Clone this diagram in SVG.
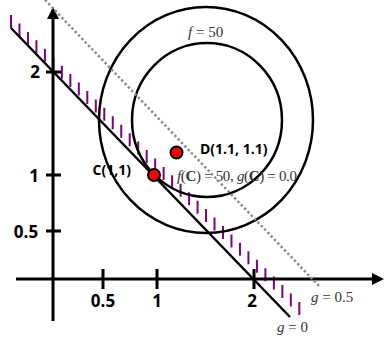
<svg xmlns="http://www.w3.org/2000/svg" width="384" height="337" viewBox="0 0 384 337">
<style>
.ax{stroke:#000;stroke-width:3;fill:none}
.ln{stroke:#000;stroke-width:2.5;fill:none}
.hatch{stroke:#800080;stroke-width:2;fill:none}
.dot{stroke:#8a8a8a;stroke-width:2.5;stroke-dasharray:2.4 2.4;fill:none}
.tick{font-family:"Open Sans","DejaVu Sans",sans-serif;font-weight:bold;font-size:17px;fill:#000}
.pl{font-family:"Open Sans","DejaVu Sans",sans-serif;font-weight:bold;font-size:14px;fill:#000}
.m{font-family:"Liberation Serif","Times New Roman",serif;font-size:15px;fill:#333}
.pt{fill:#ff0000;stroke:#000;stroke-width:2}
</style>
<rect width="384" height="337" fill="#fff"/>
<g id="connectors">
<path class="hatch" d="M11 28v-13M19.48 36.44v-13M27.96 44.88v-13M36.44 53.31v-13M44.92 61.75v-13M53.4 70.19v-13M61.88 78.63v-13M70.36 87.06v-13M78.84 95.5v-13M87.32 103.94v-13M95.8 112.38v-13M104.28 120.81v-13M112.76 129.25v-13M121.24 137.69v-13M129.72 146.13v-13M138.2 154.56v-13M146.68 163v-13M155.16 171.44v-13M163.64 179.88v-13M172.12 188.31v-13M180.6 196.75v-13M189.08 205.19v-13M197.56 213.63v-13M206.04 222.06v-13M214.52 230.5v-13M223 238.94v-13M231.48 247.38v-13M239.96 255.82v-13M248.44 264.25v-13M256.92 272.69v-13M265.4 281.13v-13M273.88 289.57v-13M282.36 298v-13M290.84 306.44v-13M299.32 314.88v-13"/>
<line id="g0" class="ln" x1="11" y1="28" x2="290" y2="317"/>
<ellipse id="f-outer" class="ln" cx="206" cy="120" rx="107" ry="113"/>
<ellipse id="f-inner" class="ln" cx="207" cy="120" rx="75" ry="77"/>
</g>
<g id="axes">
<line class="ax" x1="53" y1="321" x2="53" y2="16"/>
<polygon points="53,7 47,19 59,19" fill="#000"/>
<line class="ax" x1="16" y1="279" x2="374" y2="279"/>
<polygon points="384,279 372,273 372,285" fill="#000"/>
<path class="ax" d="M46 72h15M46 175h15M46 231h15M103 269v20M157 269v20M254 269v20"/>
<text class="tick" x="35" y="78" text-anchor="middle">2</text>
<text class="tick" x="34" y="181.5" text-anchor="middle">1</text>
<text class="tick" x="26" y="238" text-anchor="middle">0.5</text>
<text class="tick" x="103" y="307" text-anchor="middle">0.5</text>
<text class="tick" x="157" y="307" text-anchor="middle">1</text>
<text class="tick" x="252" y="307" text-anchor="middle">2</text>
</g>
<g id="C">
<circle class="pt" cx="154" cy="175" r="6"/>
<text class="pl" x="92.5" y="175">C(1,1)</text>
</g>
<g id="D">
<circle class="pt" cx="176.5" cy="152.5" r="6"/>
<text class="pl" x="200" y="154">D(1.1, 1.1)</text>
</g>
<g id="labels">
<text class="m" x="188" y="37"><tspan font-style="italic">f</tspan> = 50</text>
<text class="m" x="177" y="181" textLength="120" lengthAdjust="spacing"><tspan font-style="italic">f</tspan>(<tspan font-weight="bold">C</tspan>) = 50, <tspan font-style="italic">g</tspan>(<tspan font-weight="bold">C</tspan>) = 0.0</text>
<text class="m" x="311" y="302"><tspan font-style="italic">g</tspan> = 0.5</text>
<text class="m" x="277" y="332"><tspan font-style="italic">g</tspan> = 0</text>
</g>
<g id="g05-line">
<line class="dot" x1="45" y1="0" x2="320" y2="287"/>
</g>
</svg>
